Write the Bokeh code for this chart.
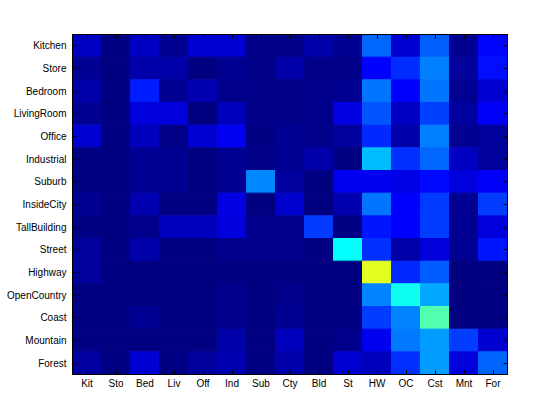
from bokeh.plotting import figure
from bokeh.models import (LinearColorMapper, ColumnDataSource, Range1d,
                          LinearAxis, FixedTicker, CustomJSTickFormatter)
from bokeh.transform import transform
from bokeh.embed import file_html
from bokeh.resources import INLINE

rows = ["Kitchen", "Store", "Bedroom", "LivingRoom", "Office", "Industrial", "Suburb",
        "InsideCity", "TallBuilding", "Street", "Highway", "OpenCountry", "Coast",
        "Mountain", "Forest"]
cols = ["Kit", "Sto", "Bed", "Liv", "Off", "Ind", "Sub", "Cty", "Bld", "St",
        "HW", "OC", "Cst", "Mnt", "For"]

kitchen      = [0.07, 0.00, 0.07, 0.02, 0.08, 0.08, 0.01, 0.01, 0.04, 0.02, 0.23, 0.08, 0.22, 0.02, 0.13]
store        = [0.02, 0.00, 0.04, 0.04, 0.00, 0.02, 0.01, 0.04, 0.01, 0.01, 0.125, 0.17, 0.25, 0.03, 0.14]
bedroom      = [0.04, 0.00, 0.155, 0.02, 0.05, 0.015, 0.01, 0.01, 0.015, 0.02, 0.24, 0.125, 0.24, 0.02, 0.08]
livingroom   = [0.02, 0.00, 0.09, 0.09, 0.00, 0.06, 0.01, 0.01, 0.015, 0.095, 0.21, 0.07, 0.19, 0.03, 0.12]
office       = [0.08, 0.00, 0.06, 0.01, 0.085, 0.115, 0.005, 0.02, 0.015, 0.03, 0.165, 0.04, 0.25, 0.02, 0.03]
industrial   = [0.005, 0.00, 0.02, 0.02, 0.00, 0.02, 0.01, 0.02, 0.04, 0.005, 0.31, 0.175, 0.23, 0.07, 0.03]
suburb       = [0.005, 0.00, 0.02, 0.02, 0.00, 0.02, 0.26, 0.03, 0.00, 0.11, 0.11, 0.105, 0.135, 0.09, 0.12]
insidecity   = [0.02, 0.00, 0.05, 0.00, 0.00, 0.10, 0.00, 0.075, 0.00, 0.05, 0.24, 0.125, 0.18, 0.02, 0.185]
tallbuilding = [0.005, 0.00, 0.015, 0.06, 0.06, 0.09, 0.015, 0.015, 0.18, 0.005, 0.145, 0.125, 0.185, 0.02, 0.09]
street       = [0.03, 0.00, 0.04, 0.00, 0.00, 0.015, 0.015, 0.015, 0.00, 0.375, 0.175, 0.04, 0.09, 0.02, 0.145]
highway      = [0.03, 0.00, 0.00, 0.00, 0.00, 0.005, 0.005, 0.005, 0.00, 0.00, 0.595, 0.165, 0.215, 0.00, 0.00]
opencountry  = [0.005, 0.00, 0.00, 0.00, 0.00, 0.015, 0.00, 0.015, 0.00, 0.00, 0.255, 0.39, 0.29, 0.00, 0.005]
coast        = [0.005, 0.00, 0.02, 0.00, 0.00, 0.015, 0.00, 0.02, 0.00, 0.005, 0.185, 0.255, 0.455, 0.00, 0.005]
mountain     = [0.005, 0.00, 0.00, 0.00, 0.00, 0.04, 0.00, 0.06, 0.00, 0.015, 0.11, 0.245, 0.28, 0.185, 0.08]
forest       = [0.035, 0.005, 0.08, 0.005, 0.03, 0.05, 0.005, 0.045, 0.00, 0.08, 0.06, 0.175, 0.28, 0.09, 0.225]

matrix = [kitchen, store, bedroom, livingroom, office, industrial, suburb, insidecity,
          tallbuilding, street, highway, opencountry, coast, mountain, forest]


def jet_palette(n=256):
    def c(v):
        return max(0.0, min(1.0, v))
    out = []
    for i in range(n):
        t = i / (n - 1)
        r = c(1.5 - abs(4 * t - 3))
        g = c(1.5 - abs(4 * t - 2))
        b = c(1.5 - abs(4 * t - 1))
        out.append("#%02x%02x%02x" % (round(r * 255), round(g * 255), round(b * 255)))
    return out


n = len(cols)
m = len(rows)
# cell centres: column index + 0.5 ; rows from top (Kitchen) to bottom (Forest)
xs, ys, vs = [], [], []
for ri, rvals in enumerate(matrix):
    for ci, v in enumerate(rvals):
        xs.append(ci + 0.5)
        ys.append(m - ri - 0.5)
        vs.append(v)
src = ColumnDataSource(dict(x=xs, y=ys, v=vs))

mapper = LinearColorMapper(palette=jet_palette(), low=0, high=1)

p = figure(frame_width=435, frame_height=340, output_backend="svg", toolbar_location=None,
           x_range=Range1d(0, n), y_range=Range1d(0, m),
           x_axis_location=None, y_axis_location=None,
           min_border_left=72, min_border_right=37, min_border_top=34, min_border_bottom=30)
p.rect(x="x", y="y", width=1, height=1, source=src,
       fill_color=transform("v", mapper), line_color=transform("v", mapper), line_width=1)

p.grid.visible = False
p.background_fill_color = "white"
p.border_fill_color = "white"
p.outline_line_color = "black"
p.outline_line_width = 1

xticks = [i + 0.5 for i in range(n)]
yticks = [m - i - 0.5 for i in range(m)]
xlab = {t: c for t, c in zip(xticks, cols)}
ylab = {t: r for t, r in zip(yticks, rows)}

bottom = LinearAxis(ticker=FixedTicker(ticks=xticks), major_label_overrides=xlab)
left = LinearAxis(ticker=FixedTicker(ticks=yticks), major_label_overrides=ylab)
top = LinearAxis(ticker=FixedTicker(ticks=xticks),
                 formatter=CustomJSTickFormatter(code="return ''"))
right = LinearAxis(ticker=FixedTicker(ticks=yticks),
                   formatter=CustomJSTickFormatter(code="return ''"))

for ax in (bottom, left, top, right):
    ax.major_tick_in = 4
    ax.major_tick_out = 0
    ax.minor_tick_in = 0
    ax.minor_tick_out = 0
    ax.axis_line_color = "black"
    ax.major_tick_line_color = "black"
    ax.major_label_text_font = "Liberation Sans"
    ax.major_label_text_font_size = "10px"
    ax.major_label_text_color = "black"
bottom.major_label_standoff = 3
left.major_label_standoff = 6
top.major_label_standoff = 0
right.major_label_standoff = 0

p.add_layout(bottom, "below")
p.add_layout(left, "left")
p.add_layout(top, "above")
p.add_layout(right, "right")

open("out.html", "w").write(file_html(p, INLINE))
